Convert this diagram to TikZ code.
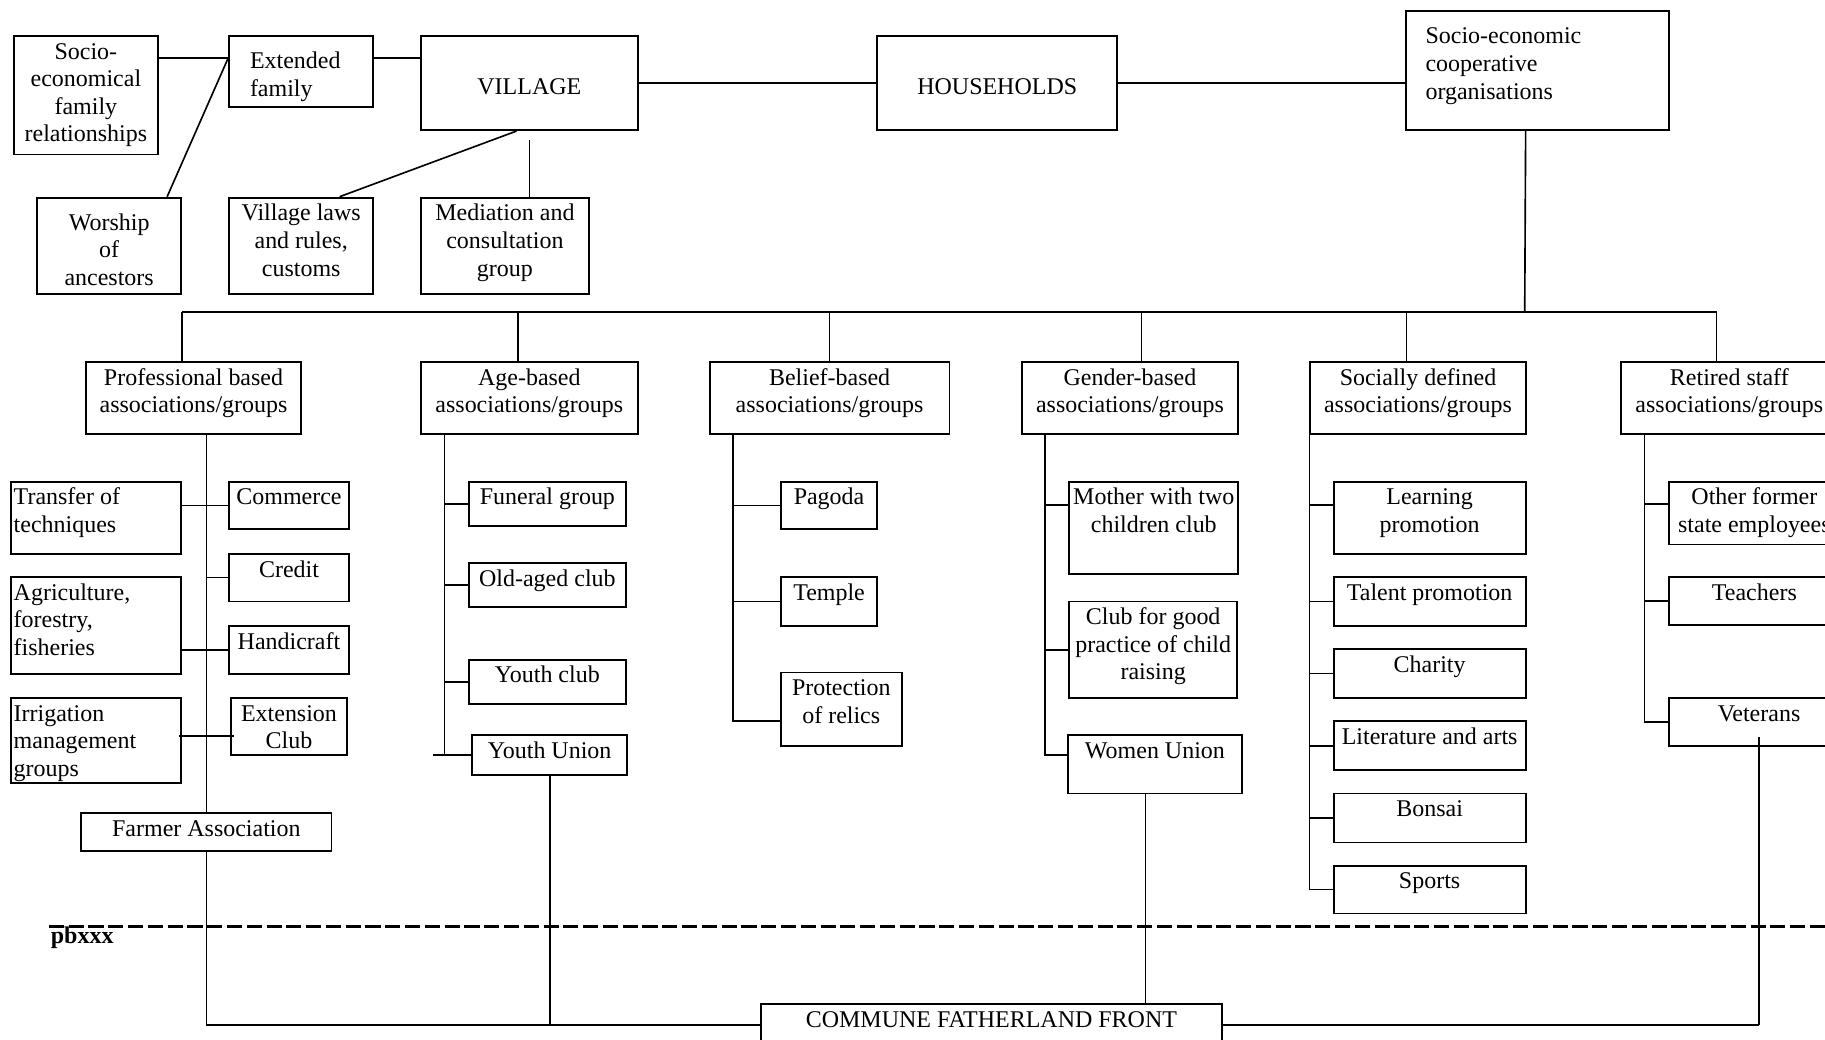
\documentclass[tikz,border=0pt]{standalone}
\usepackage{fontspec}
\setmainfont{Liberation Serif}

\def\tbtop{20pt}
\def\tbpad{0pt}
\tikzset{
  baseoff/.code={\def\tbtop{#1}},
  leftpad/.code={\def\tbpad{#1}},
  box/.style 2 args={draw, line width=1.6pt, inner sep=0pt, anchor=north west,
    execute at begin node={\begin{minipage}[c][#2][t]{#1}\centering\rule{0pt}{\tbtop}},
    execute at end node={\end{minipage}}},
  cbox/.style 2 args={draw, line width=1.6pt, inner sep=0pt, anchor=north west,
    execute at begin node={\begin{minipage}[c][#2][c]{#1}\centering\rule{0pt}{\tbtop}},
    execute at end node={\end{minipage}}},
  lbox/.style 2 args={draw, line width=1.6pt, inner sep=0pt, anchor=north west,
    execute at begin node={\begin{minipage}[c][#2][t]{#1}\raggedright\leftskip=\tbpad\relax\rule{0pt}{\tbtop}},
    execute at end node={\end{minipage}}},
  busline/.style={line width=2.2pt},
  sepline/.style={line width=1.8pt, dash pattern=on 13pt off 4pt},
}

\begin{document}
\begin{tikzpicture}[x=1pt,y=-1pt,line width=1.4pt,font=\fontsize{20.6}{23.7}\selectfont]
    \useasboundingbox (0,0) rectangle (1568,893);
    % top row
    \node[box={124pt}{102pt}] (socio) at (11,30) {Socio-\\economical\\family\\relationships};
    \node[lbox={124pt}{61pt},leftpad=18pt,baseoff=28pt] (ext) at (196,30) {Extended\\family};
    \node[cbox={186pt}{81pt}] (village) at (361,30) {VILLAGE};
    \node[cbox={206pt}{81pt}] (households) at (753,30) {HOUSEHOLDS};
    \node[lbox={226pt}{102pt},leftpad=17pt,baseoff=28pt] (coop) at (1207,9) {Socio-economic\\cooperative\\organisations};
    \node[box={124pt}{83pt},baseoff=28pt] (worship) at (31,169) {Worship\\of\\ancestors};
    \node[box={124pt}{83pt}] (laws) at (196,169) {Village laws\\and rules,\\customs};
    \node[box={144pt}{83pt}] (mediation) at (361,169) {Mediation and\\consultation\\group};
    \coordinate (famline) at ([yshift=-20pt]ext.north west);
    \draw (socio.east |- famline) -- (famline);
    \draw (ext.east |- famline) -- (village.west |- famline);
    \draw ([xshift=-13pt]worship.north east) -- (famline);
    \draw (village) -- (households);
    \draw (households.east) -- (households.east -| coop.west);
    \draw ([xshift=-11pt]village.south) -- ([xshift=33pt]laws.north);
    \draw (mediation.north -| village.south) -- ([yshift=-8pt]village.south);
    % association groups
    \node[box={185pt}{62pt}] (prof) at (73,310) {Professional based\\associations/groups};
    \node[box={186pt}{62pt}] (age) at (361,310) {Age-based\\associations/groups};
    \node[box={206pt}{62pt}] (belief) at (609,310) {Belief-based\\associations/groups};
    \node[box={186pt}{62pt}] (gender) at (877,310) {Gender-based\\associations/groups};
    \node[box={185pt}{62pt}] (social) at (1125,310) {Socially defined\\associations/groups};
    \node[box={186pt}{62pt}] (retired) at (1392,310) {Retired staff\\associations/groups};
    \coordinate (bus) at (1310,268);
    \draw ([xshift=-10pt]coop.south) -- (bus);
    \draw ([xshift=-10pt]prof.north |- bus) -- ([xshift=-11pt]retired.north |- bus);
    \foreach \n/\s in {prof/-10,age/-10,belief/0,gender/10,social/-10,retired/-11}
        \draw ([xshift=\s pt]\n.north) -- ([xshift=\s pt]\n.north |- bus);
    % professional
    \node[lbox={146pt}{62pt},leftpad=2pt] (transfer) at (9,413) {Transfer of\\techniques};
    \node[box={103pt}{41pt}] (commerce) at (196,413) {Commerce};
    \node[box={103pt}{41pt}] (credit) at (196,475) {Credit};
    \node[lbox={146pt}{83pt},leftpad=2pt] (agri) at (9,495) {Agriculture,\\forestry,\\fisheries};
    \node[box={103pt}{41pt}] (handicraft) at (196,537) {Handicraft};
    \node[lbox={146pt}{73pt},leftpad=2pt] (irrigation) at (9,599) {Irrigation\\management\\groups};
    \node[box={99pt}{49pt}] (extension) at (198,599) {Extension\\Club};
    \node[box={215pt}{32pt}] (farmer) at (69,698) {Farmer Association};
    \draw (farmer.north) -- (farmer.north |- prof.south);
    \draw (commerce.west -| transfer.east) -- (commerce.west);
    \draw (credit.west -| farmer.north) -- (credit.west);
    \draw (handicraft.west -| agri.east) -- (handicraft.west);
    \draw ([shift={(-3pt,4pt)}]irrigation.east) -- ([shift={(3pt,4pt)}]extension.west |- irrigation.east);
    % age
    \node[box={135pt}{38pt}] (funeral) at (402,413) {Funeral group};
    \node[box={135pt}{38pt}] (oldaged) at (402,483) {Old-aged club};
    \node[box={135pt}{38pt}] (youthclub) at (402,566) {Youth club};
    \node[box={133pt}{34pt}] (youthunion) at (405,631) {Youth Union};
    \coordinate (agetrunk) at ([xshift=21pt]age.south west);
    \draw (agetrunk) -- (agetrunk |- youthunion.west);
    \foreach \n in {funeral,oldaged,youthclub}
        \draw (agetrunk |- \n.west) -- (\n.west);
    \draw ([xshift=-10pt]agetrunk |- youthunion.west) -- (youthunion.west);
    % belief
    \node[box={83pt}{41pt}] (pagoda) at (670,413) {Pagoda};
    \node[box={83pt}{42pt}] (temple) at (670,495) {Temple};
    \node[box={104pt}{63pt}] (relics) at (670,577) {Protection\\of relics};
    \coordinate (beltrunk) at ([xshift=21pt]belief.south west);
    \draw (beltrunk) |- ([yshift=-10pt]relics.west);
    \foreach \n in {pagoda,temple}
        \draw (beltrunk |- \n.west) -- (\n.west);
    % gender
    \node[box={145pt}{79pt}] (mother) at (918,413) {Mother with two\\children club};
    \node[box={144pt}{83pt}] (childcare) at (918,516) {Club for good\\practice of child\\raising};
    \node[box={149pt}{50pt}] (women) at (917,631) {Women Union};
    \coordinate (gentrunk) at ([xshift=21pt]gender.south west);
    \coordinate (motherin) at ([yshift=-21pt]mother.north west);
    \draw (gentrunk) |- ([yshift=8pt]women.west);
    \draw (motherin) -- (motherin -| gentrunk);
    \draw (gentrunk |- childcare.west) -- (childcare.west);
    % socially defined
    \node[box={165pt}{62pt}] (learning) at (1145,413) {Learning\\promotion};
    \node[box={165pt}{42pt}] (talent) at (1145,495) {Talent promotion};
    \node[box={165pt}{42pt}] (charity) at (1145,557) {Charity};
    \node[box={165pt}{42pt}] (literature) at (1145,619) {Literature and arts};
    \node[box={165pt}{42pt}] (bonsai) at (1145,681) {Bonsai};
    \node[box={165pt}{41pt}] (sports) at (1145,743) {Sports};
    \coordinate (soctrunk) at (social.south west);
    \coordinate (learnin) at ([yshift=-21pt]learning.north west);
    \draw (soctrunk) |- (sports.west);
    \draw (learnin) -- (learnin -| soctrunk);
    \foreach \n in {talent,charity,literature,bonsai}
        \draw (soctrunk |- \n.west) -- (\n.west);
    % retired staff
    \node[box={147pt}{54pt}] (formerstaff) at (1433,413) {Other former\\state employees};
    \node[box={147pt}{41pt}] (teachers) at (1433,495) {Teachers};
    \node[box={155pt}{41pt}] (veterans) at (1433,599) {Veterans};
    \coordinate (rettrunk) at ([xshift=21pt]retired.south west);
    \coordinate (formerin) at ([yshift=-20pt]formerstaff.north west);
    \draw (rettrunk) |- (veterans.west);
    \draw (formerin) -- (formerin -| rettrunk);
    \draw (rettrunk |- teachers.west) -- (teachers.west);
    % separator
    \coordinate (sepl) at (42,796);
    \coordinate (sepr) at (1568,796);
    \draw[sepline] (sepl) -- (sepr);
    \node[anchor=base west,inner sep=0pt,font=\fontsize{20.6}{23.7}\selectfont\bfseries] (pbxxx) at (43,811) {pbxxx};
    % commune
    \node[box={396pt}{36pt}] (commune) at (653,862) {COMMUNE FATHERLAND FRONT};
    \draw (farmer.south) -- (farmer.south |- commune.west);
    \draw (youthunion.south) -- (youthunion.south |- commune.west);
    \draw ([xshift=-8pt]women.south) -- ([xshift=-8pt]women.south |- commune.north);
    \draw ([yshift=8pt]veterans.south) -- (veterans.south |- commune.east);
    \draw[busline] (farmer.south |- commune.west) -- (commune.west);
    \draw[busline] (commune.east) -- (veterans.south |- commune.east);
\end{tikzpicture}
\end{document}
